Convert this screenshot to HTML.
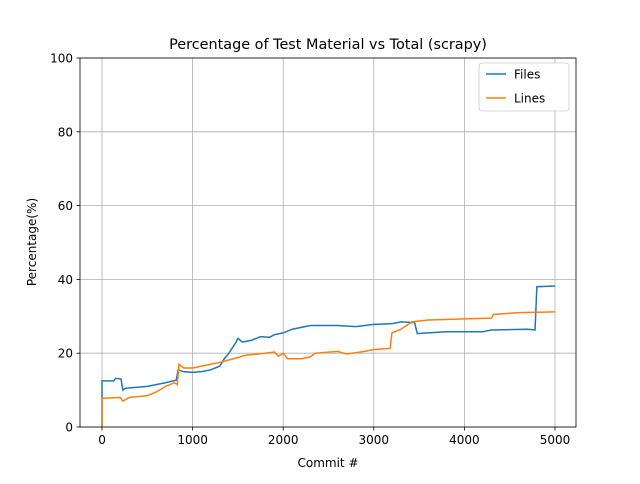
<!DOCTYPE html>
<html><head><meta charset="utf-8"><style>
body{margin:0;background:#fff;font-family:"DejaVu Sans","Liberation Sans",sans-serif}
svg text{font-family:"DejaVu Sans","Liberation Sans",sans-serif;fill:#000}
</style></head><body>
<svg id="c" width="640" height="480"></svg>
<script>
const filesX=[0,0,130,150,210,230,260,500,700,820,840,900,1000,1100,1200,1300,1350,1400,1480,1500,1550,1650,1750,1850,1900,2000,2100,2200,2300,2600,2800,3000,3200,3300,3450,3480,3600,3800,4200,4300,4700,4780,4800,5000];
const filesY=[0,12.5,12.5,13.2,13,10,10.5,11,12,12.7,15.5,15,14.8,15,15.5,16.5,18.5,20,23,24,23,23.5,24.5,24.3,25,25.5,26.5,27,27.5,27.5,27.2,27.8,28,28.5,28.3,25.3,25.5,25.8,25.8,26.3,26.5,26.3,38,38.2];
const linesX=[0,0,200,230,300,500,600,700,800,830,850,900,1000,1100,1200,1300,1450,1600,1800,1900,1950,2000,2050,2200,2300,2350,2600,2700,2900,3000,3180,3200,3300,3420,3600,4000,4300,4320,4600,5000];
const linesY=[0,7.8,8,7,8,8.5,9.5,11,12,11.5,17,16,16,16.5,17,17.5,18.5,19.5,20,20.3,19.2,20,18.5,18.5,19,20,20.5,19.8,20.5,21,21.3,25.5,26.5,28.5,29,29.3,29.5,30.5,31,31.2];
const xTicks=[0,1000,2000,3000,4000,5000];
const yTicks=[0,20,40,60,80,100];
const L=80,R=576,T=58,B=427,xmin=-243,xmax=5232;
const sx=v=>L+(v-xmin)/(xmax-xmin)*(R-L), sy=v=>B-v/100*(B-T);
const svg=document.getElementById('c'),NS='http://www.w3.org/2000/svg';
function mk(t,a,p){const e=document.createElementNS(NS,t);for(const k in a)e.setAttribute(k,a[k]);(p||svg).appendChild(e);return e;}
xTicks.forEach(v=>{const x=sx(v);
const g=mk('line',{x1:x,x2:x,y1:T,y2:B,stroke:'#b0b0b0','stroke-width':0.8});


mk('line',{x1:x,x2:x,y1:B,y2:B+3.5,stroke:'#000','stroke-width':0.8});
const t=mk('text',{x:x,y:B+17,'text-anchor':'middle','font-size':'12'});t.textContent=v;

});
yTicks.forEach(v=>{const y=sy(v);
const g=mk('line',{x1:L,x2:R,y1:y,y2:y,stroke:'#b0b0b0','stroke-width':0.8});


mk('line',{x1:L-3.5,x2:L,y1:y,y2:y,stroke:'#000','stroke-width':0.8});
const t=mk('text',{x:L-7,y:y+4.5,'text-anchor':'end','font-size':'12'});t.textContent=v;

});
function series(xs,ys,col,name){const p=mk('polyline',{points:xs.map((x,i)=>sx(x)+','+sy(ys[i])).join(' '),fill:'none',stroke:col,'stroke-width':1.5});

}
series(filesX,filesY,'#1f77b4','files-line');
series(linesX,linesY,'#ff7f0e','lines-line');
const fr=mk('rect',{x:L,y:T,width:R-L,height:B-T,fill:'none',stroke:'#000','stroke-width':0.8});


const ti=mk('text',{x:(L+R)/2,y:49,'text-anchor':'middle','font-size':'14.4'});ti.textContent='Percentage of Test Material vs Total (scrapy)';


const xl=mk('text',{x:(L+R)/2,y:467,'text-anchor':'middle','font-size':'12'});xl.textContent='Commit #';


const yl=mk('text',{x:0,y:0,'text-anchor':'middle','font-size':'12',transform:'translate(36,242) rotate(-90)'});yl.textContent='Percentage(%)';


const lg=mk('g',{});


mk('rect',{x:479,y:63,width:90,height:48,rx:3,fill:'#fff',stroke:'#ccc','stroke-width':0.8},lg);
[['Files','#1f77b4',74],['Lines','#ff7f0e',98]].forEach(([n,c,y])=>{
mk('line',{x1:486,x2:506,y1:y,y2:y,stroke:c,'stroke-width':1.5},lg);
const t=mk('text',{x:514,y:y+4.5,'font-size':'12'},lg);t.textContent=n;

});
</script>
</body></html>
